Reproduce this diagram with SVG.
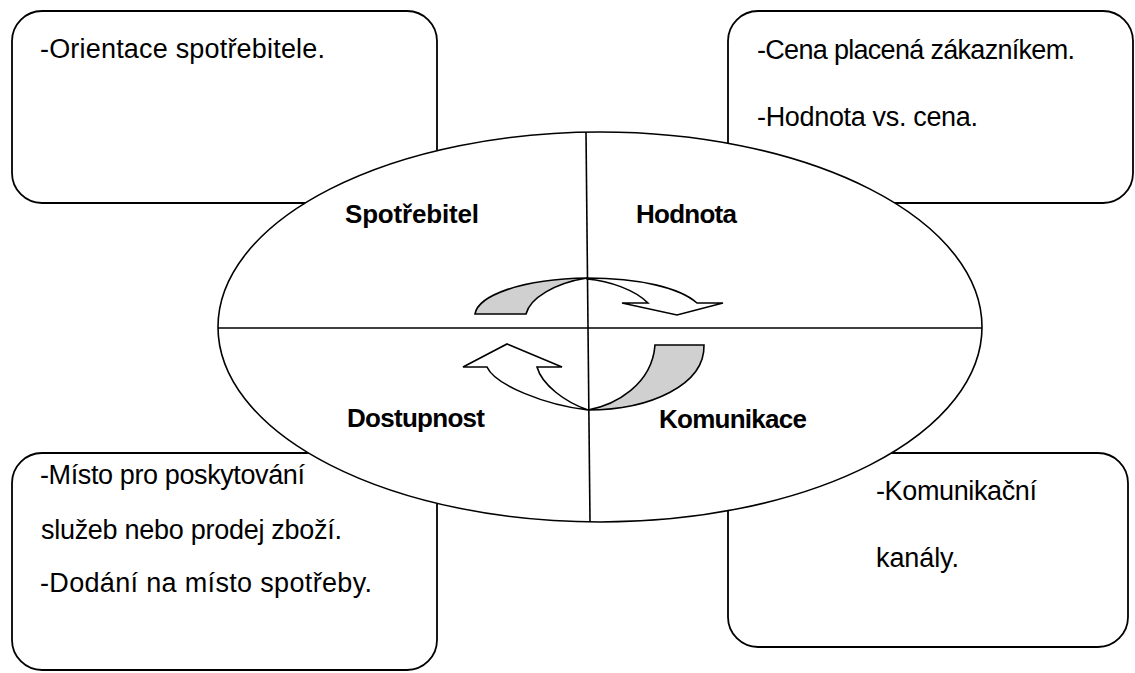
<svg xmlns="http://www.w3.org/2000/svg" width="1135" height="673" viewBox="0 0 1135 673">
<style>
.box{fill:#fff;stroke:#000;stroke-width:1.8}
.txt{font-family:"Liberation Sans",Arial,sans-serif;font-size:27px;fill:#000}
.lbl{font-family:"Liberation Sans",Arial,sans-serif;font-size:26px;font-weight:bold;fill:#000}
.ln{stroke:#000;stroke-width:1.6;fill:none}
.arrG{fill:#d0d0d0;stroke:#000;stroke-width:1.6;stroke-linejoin:miter}
.arrW{fill:#fff;stroke:#000;stroke-width:1.6;stroke-linejoin:miter}
</style>
<rect width="1135" height="673" fill="#fff"/>
<g id="box-spotrebitel">
<rect class="box" x="12" y="11" width="425" height="192" rx="30" ry="30"/>
<text class="txt" x="40" y="58" textLength="285">-Orientace spotřebitele.</text>
</g>
<g id="box-hodnota">
<rect class="box" x="728" y="11" width="405" height="192" rx="30" ry="30"/>
<text class="txt" x="757" y="59" textLength="318">-Cena placená zákazníkem.</text>
<text class="txt" x="757" y="126" textLength="221">-Hodnota vs. cena.</text>
</g>
<g id="box-dostupnost">
<rect class="box" x="12" y="453" width="425" height="217" rx="30" ry="30"/>
<text class="txt" x="40" y="484" textLength="265">-Místo pro poskytování</text>
<text class="txt" x="41" y="539" textLength="301">služeb nebo prodej zboží.</text>
<text class="txt" x="40" y="592" textLength="332">-Dodání na místo spotřeby.</text>
</g>
<g id="box-komunikace">
<rect class="box" x="728" y="453" width="400" height="194" rx="30" ry="30"/>
<text class="txt" x="876" y="500" textLength="161">-Komunikační</text>
<text class="txt" x="876" y="567" textLength="83">kanály.</text>
</g>
<g id="ellipse-4c">
<ellipse cx="600" cy="327" rx="382" ry="195" fill="#fff" stroke="#000" stroke-width="1.6"/>
<line class="ln" x1="218" y1="328" x2="982" y2="328"/>
<line class="ln" x1="586" y1="132" x2="590" y2="522"/>
<text class="lbl" x="345" y="223" textLength="134">Spotřebitel</text>
<text class="lbl" x="636" y="223" textLength="101">Hodnota</text>
<text class="lbl" x="347" y="427" textLength="138">Dostupnost</text>
<text class="lbl" x="659" y="428" textLength="148">Komunikace</text>
</g>
<g id="connectors">
<path class="arrG" d="M475,314 C478,296 520,279 587,278 C555,283 530,298 526,314 Z"/>
<path class="arrW" d="M587,278 C640,278 680,288 697,303 L723,303 L677,315 L622,303 L648,303 C635,290 610,281 587,279 Z"/>
<path class="arrG" d="M655,345 L704,345 C705,385 650,410 588,410 C615,405 652,385 655,345 Z"/>
<path class="arrW" d="M588,410 C545,405 495,385 487,367 L463,367 L507,344 L562,367 L537,367 C542,385 565,402 588,410 Z"/>
</g>
</svg>
